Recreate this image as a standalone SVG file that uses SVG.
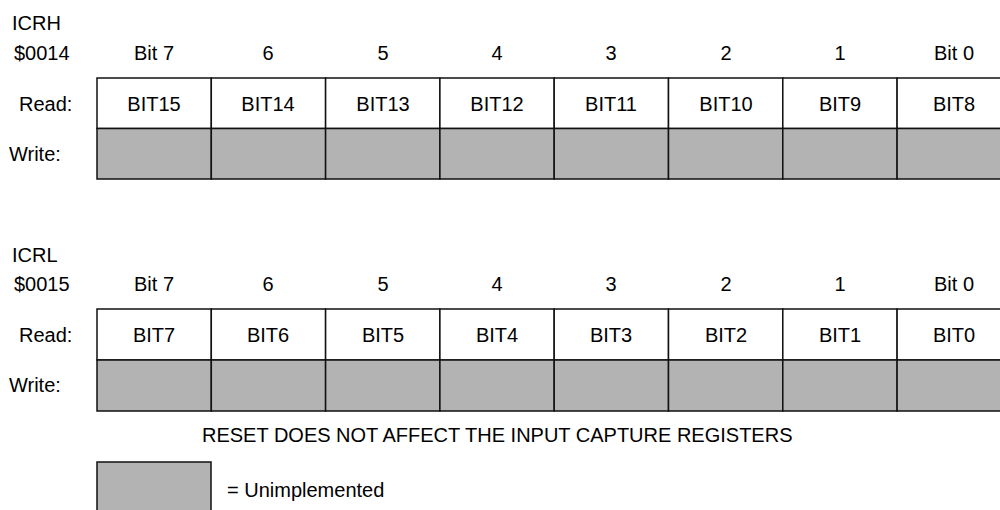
<svg xmlns="http://www.w3.org/2000/svg" width="1000" height="510" viewBox="0 0 1000 510">
<style>
text{font-family:"Liberation Sans",Arial,sans-serif;font-size:20px;fill:#000}
.c{text-anchor:middle}
.r{fill:#fff;stroke:#111;stroke-width:1.5}
.u{fill:#b3b3b3;stroke:#111;stroke-width:1.5}
</style>
<rect width="1000" height="510" fill="#fff"/>
<g id="icrh">
<text x="12" y="30">ICRH</text>
<text x="14" y="60">$0014</text>
<g class="c">
<text x="154" y="60">Bit 7</text><text x="268" y="60">6</text><text x="383" y="60">5</text><text x="497" y="60">4</text><text x="611" y="60">3</text><text x="726" y="60">2</text><text x="840" y="60">1</text><text x="954" y="60">Bit 0</text>
</g>
<text x="19" y="111">Read:</text>
<text x="9" y="161">Write:</text>
<rect class="r" x="97" y="78" width="114.3" height="50.5"/><rect class="r" x="211.3" y="78" width="114.3" height="50.5"/><rect class="r" x="325.6" y="78" width="114.3" height="50.5"/><rect class="r" x="439.9" y="78" width="114.3" height="50.5"/><rect class="r" x="554.2" y="78" width="114.3" height="50.5"/><rect class="r" x="668.5" y="78" width="114.3" height="50.5"/><rect class="r" x="782.8" y="78" width="114.3" height="50.5"/><rect class="r" x="897.1" y="78" width="114.3" height="50.5"/>
<rect class="u" x="97" y="128.5" width="114.3" height="50.5"/><rect class="u" x="211.3" y="128.5" width="114.3" height="50.5"/><rect class="u" x="325.6" y="128.5" width="114.3" height="50.5"/><rect class="u" x="439.9" y="128.5" width="114.3" height="50.5"/><rect class="u" x="554.2" y="128.5" width="114.3" height="50.5"/><rect class="u" x="668.5" y="128.5" width="114.3" height="50.5"/><rect class="u" x="782.8" y="128.5" width="114.3" height="50.5"/><rect class="u" x="897.1" y="128.5" width="114.3" height="50.5"/>
<g class="c">
<text x="154" y="111">BIT15</text><text x="268" y="111">BIT14</text><text x="383" y="111">BIT13</text><text x="497" y="111">BIT12</text><text x="611" y="111">BIT11</text><text x="726" y="111">BIT10</text><text x="840" y="111">BIT9</text><text x="954" y="111">BIT8</text>
</g>
</g>
<g id="icrl">
<text x="12" y="262">ICRL</text>
<text x="14" y="291">$0015</text>
<g class="c">
<text x="154" y="291">Bit 7</text><text x="268" y="291">6</text><text x="383" y="291">5</text><text x="497" y="291">4</text><text x="611" y="291">3</text><text x="726" y="291">2</text><text x="840" y="291">1</text><text x="954" y="291">Bit 0</text>
</g>
<text x="19" y="342">Read:</text>
<text x="9" y="392">Write:</text>
<rect class="r" x="97" y="309" width="114.3" height="51"/><rect class="r" x="211.3" y="309" width="114.3" height="51"/><rect class="r" x="325.6" y="309" width="114.3" height="51"/><rect class="r" x="439.9" y="309" width="114.3" height="51"/><rect class="r" x="554.2" y="309" width="114.3" height="51"/><rect class="r" x="668.5" y="309" width="114.3" height="51"/><rect class="r" x="782.8" y="309" width="114.3" height="51"/><rect class="r" x="897.1" y="309" width="114.3" height="51"/>
<rect class="u" x="97" y="360" width="114.3" height="51"/><rect class="u" x="211.3" y="360" width="114.3" height="51"/><rect class="u" x="325.6" y="360" width="114.3" height="51"/><rect class="u" x="439.9" y="360" width="114.3" height="51"/><rect class="u" x="554.2" y="360" width="114.3" height="51"/><rect class="u" x="668.5" y="360" width="114.3" height="51"/><rect class="u" x="782.8" y="360" width="114.3" height="51"/><rect class="u" x="897.1" y="360" width="114.3" height="51"/>
<g class="c">
<text x="154" y="342">BIT7</text><text x="268" y="342">BIT6</text><text x="383" y="342">BIT5</text><text x="497" y="342">BIT4</text><text x="611" y="342">BIT3</text><text x="726" y="342">BIT2</text><text x="840" y="342">BIT1</text><text x="954" y="342">BIT0</text>
</g>
</g>
<g id="note">
<text x="202" y="442">RESET DOES NOT AFFECT THE INPUT CAPTURE REGISTERS</text>
</g>
<g id="legend">
<rect class="u" x="97" y="462" width="114" height="60"/>
<text x="227" y="497">= Unimplemented</text>
</g>
<g id="connectors"/>
</svg>
